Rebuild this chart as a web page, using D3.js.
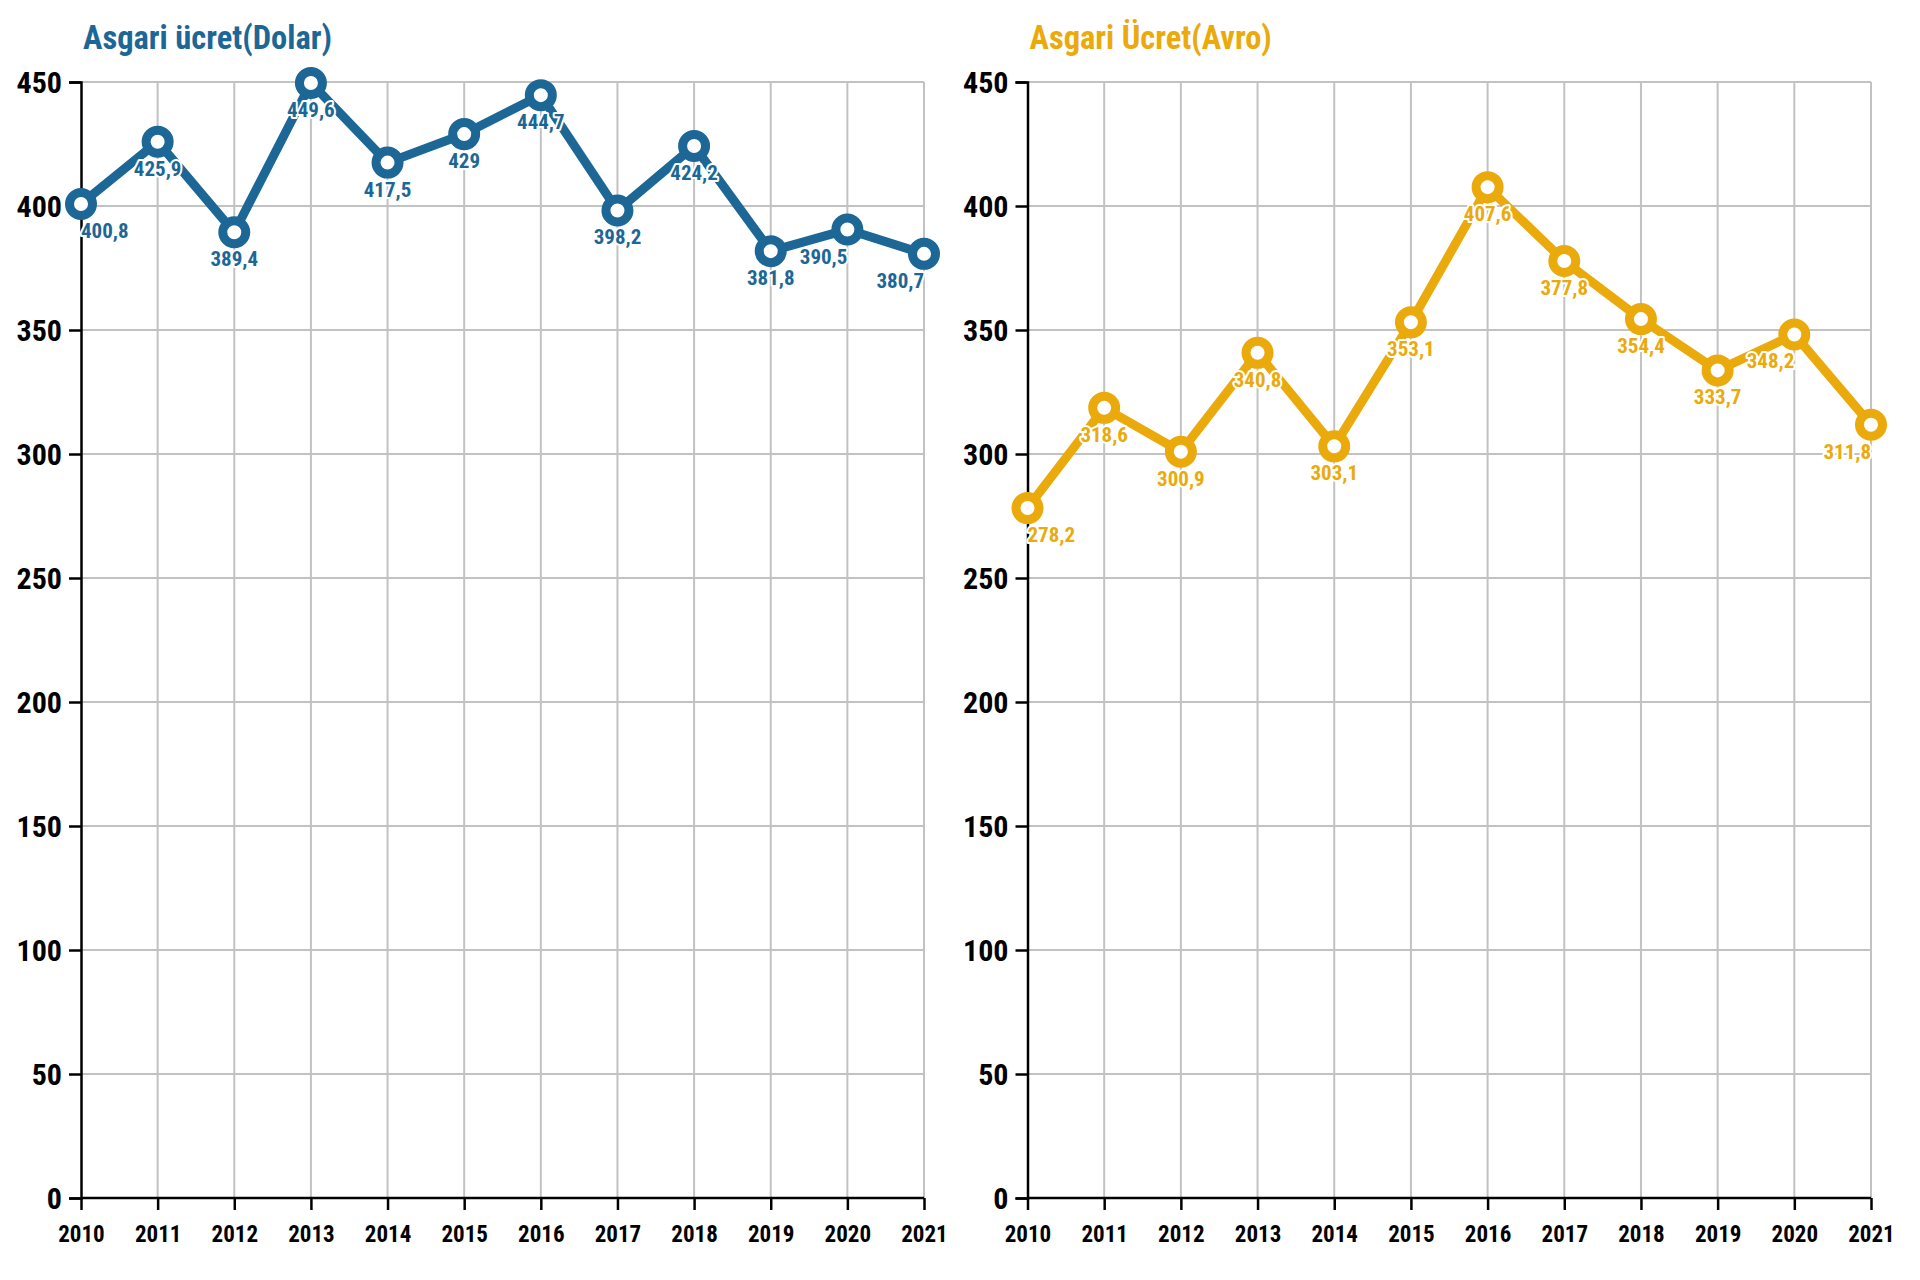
<!DOCTYPE html>
<html><head><meta charset="utf-8">
<script src="https://cdn.jsdelivr.net/npm/d3@7/dist/d3.min.js"></script>
<style>
html,body{margin:0;padding:0;background:#fff;}
svg{display:block;}
text{font-family:"Roboto Condensed","Liberation Sans Narrow","DejaVu Sans Condensed",sans-serif;font-weight:bold;font-stretch:condensed;}
</style></head>
<body>
<svg id="c" width="1920" height="1280"></svg>
<script>
const years = [2010,2011,2012,2013,2014,2015,2016,2017,2018,2019,2020,2021];
const dolar = [400.8,425.9,389.4,449.6,417.5,429,444.7,398.2,424.2,381.8,390.5,380.7];
const avro = [278.2,318.6,300.9,340.8,303.1,353.1,407.6,377.8,354.4,333.7,348.2,311.8];
const yTicks = [0,50,100,150,200,250,300,350,400,450];
const titles = ["Asgari ücret(Dolar)","Asgari Ücret(Avro)"];

const svg = d3.select("#c");
const panels = [
  {title:titles[0], data:dolar, color:"#1d6796", x0:81, x1:924},
  {title:titles[1], data:avro, color:"#ebaa0c", x0:1027.5, x1:1871}
];
const yTop = 82, yBot = 1198;
const fmt = v => String(v).replace(".", ",");

panels.forEach(p => {
  const g = svg.append("g");
  const x = d3.scalePoint().domain(years).range([p.x0, p.x1]);
  const y = d3.scaleLinear().domain([0,450]).range([yBot, yTop]);

  // grid
  g.append("g").selectAll("line.h").data(yTicks.filter(d=>d>0)).join("line")
    .attr("x1", p.x0).attr("x2", p.x1).attr("y1", d=>y(d)).attr("y2", d=>y(d))
    .attr("stroke","#c2c2c2").attr("stroke-width",2);
  g.append("g").selectAll("line.v").data(years.slice(1)).join("line")
    .attr("x1", d=>x(d)).attr("x2", d=>x(d)).attr("y1", yTop).attr("y2", yBot)
    .attr("stroke","#c2c2c2").attr("stroke-width",2);

  // axes
  const ya = g.append("g").attr("transform",`translate(${p.x0},0)`)
    .call(d3.axisLeft(y).tickValues(yTicks).tickSize(12).tickPadding(7).tickFormat(d3.format("d")));
  ya.select(".domain").attr("stroke","#000").attr("stroke-width",2.5);
  ya.selectAll(".tick line").attr("stroke","#000").attr("stroke-width",2.5);
  ya.selectAll(".tick text").attr("font-size",30).attr("fill","#000").attr("dy","0.36em");

  const xa = g.append("g").attr("transform",`translate(0,${yBot})`)
    .call(d3.axisBottom(x).tickSize(12).tickPadding(16).tickFormat(d3.format("d")));
  xa.select(".domain").attr("stroke","#000").attr("stroke-width",2.5).attr("d",`M${p.x0},0H${p.x1}`);
  xa.selectAll(".tick line").attr("stroke","#000").attr("stroke-width",2.5);
  xa.selectAll(".tick text").attr("font-size",23).attr("fill","#000");

  // title
  g.append("text").attr("x", p.x0+2).attr("y", 49).attr("font-size",32.5)
    .attr("fill", p.color).text(p.title);

  // line
  const pts = years.map((yr,i)=>({yr, v:p.data[i], i}));
  g.append("path").datum(pts)
    .attr("d", d3.line().x(d=>x(d.yr)).y(d=>y(d.v)))
    .attr("fill","none").attr("stroke",p.color).attr("stroke-width",9).attr("stroke-linejoin","round");
  g.selectAll("circle.m").data(pts).join("circle")
    .attr("cx", d=>x(d.yr)).attr("cy", d=>y(d.v)).attr("r",11.5)
    .attr("fill","#fff").attr("stroke",p.color).attr("stroke-width",9);

  // labels
  const anchor = d => d.i===0 ? "start" : (d.i>=10 ? "end" : "middle");
  g.selectAll("text.lbl").data(pts).join("text")
    .attr("x", d=>x(d.yr)).attr("y", d=>y(d.v)+34)
    .attr("text-anchor", anchor).attr("font-size",21)
    .attr("fill", p.color).attr("stroke","#fff").attr("stroke-width",4)
    .attr("paint-order","stroke").attr("stroke-linejoin","round")
    .text(d=>fmt(d.v));
});
</script>
</body></html>
